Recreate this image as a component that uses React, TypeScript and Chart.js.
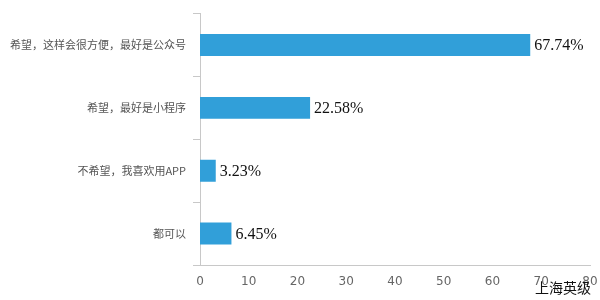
import React, { useEffect, useRef } from "react";
import { Chart, registerables } from "chart.js";

Chart.register(...registerables);

const categories = ["希望，这样会很方便，最好是公众号", "希望，最好是小程序", "不希望，我喜欢用APP", "都可以"];
const values = [67.74, 22.58, 3.23, 6.45];
const valueLabels = ["67.74%", "22.58%", "3.23%", "6.45%"];
const xTicks = [0, 10, 20, 30, 40, 50, 60, 70, 80];
const footerText = "上海英级";

export default function App() {
  const ref = useRef<HTMLCanvasElement>(null);
  useEffect(() => {
    if (!ref.current) return;
    const labelPlugin = {
      id: "valueLabels",
      afterDatasetsDraw(chart: any) {
        const ctx = chart.ctx;
        const meta = chart.getDatasetMeta(0);
        ctx.save();
        ctx.font = '16px "Liberation Serif"';
        ctx.fillStyle = "#111";
        ctx.textAlign = "left";
        ctx.textBaseline = "middle";
        meta.data.forEach((bar: any, i: number) => {
          ctx.fillText(valueLabels[i], bar.x + 4, bar.y + 1);
        });
        ctx.restore();
      },
      afterDraw(chart: any) {
        const ctx = chart.ctx;
        ctx.save();
        ctx.font = '14px "Noto Sans CJK SC"';
        ctx.fillStyle = "#111";
        ctx.textAlign = "right";
        ctx.textBaseline = "middle";
        ctx.fillText(footerText, 591, 288);
        ctx.restore();
      },
    };
    const chart = new Chart(ref.current, {
      type: "bar",
      data: {
        labels: categories,
        datasets: [
          {
            data: values,
            backgroundColor: "#319fd9",
            categoryPercentage: 1,
            barPercentage: 0.35,
          },
        ],
      },
      options: {
        indexAxis: "y",
        animation: false,
        responsive: false,
        layout: { padding: { top: 10, right: 0, left: 0, bottom: 0 } },
        plugins: { legend: { display: false }, tooltip: { enabled: false } },
        scales: {
          x: {
            min: 0,
            max: 80,
            afterBuildTicks(scale: any) {
              scale.ticks = xTicks.map((v) => ({ value: v }));
            },
            afterFit(scale: any) {
              scale.height = 35;
              scale.paddingRight = 10;
            },
            grid: { display: false, drawTicks: false },
            border: { display: true, color: "#c8c8c8", width: 1 },
            ticks: { color: "#666", font: { size: 12, family: "DejaVu Sans" }, padding: 10 },
          },
          y: {
            afterFit(scale: any) {
              scale.width = 200;
            },
            grid: {
              display: true,
              offset: true,
              drawOnChartArea: false,
              drawTicks: true,
              tickLength: 7,
              color: "#c8c8c8",
            },
            border: { display: true, color: "#c8c8c8", width: 1 },
            ticks: { color: "#555", font: { size: 11, family: "Noto Sans CJK SC" }, padding: 7 },
          },
        },
      },
      plugins: [labelPlugin],
    } as any);
    return () => chart.destroy();
  }, []);
  return (
    <div style={{ position: "absolute", left: 0, top: 0, width: 600, height: 300, background: "#fff" }}>
      <canvas ref={ref} width={600} height={300} style={{ width: 600, height: 300 }} />
    </div>
  );
}
